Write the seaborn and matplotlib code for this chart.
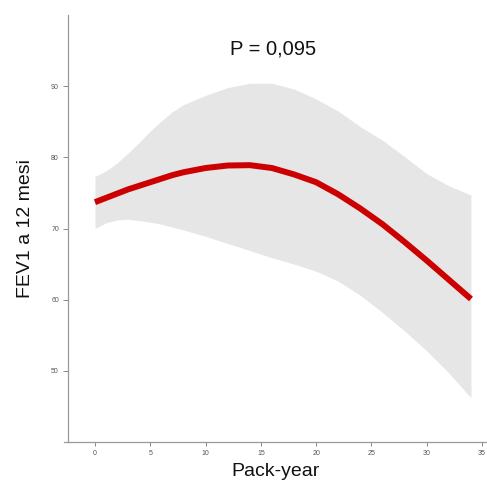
import numpy as np
import pandas as pd
import matplotlib
matplotlib.use("Agg")
import matplotlib.pyplot as plt
import seaborn as sns

pack_year = [0, 1, 2, 3, 4, 5, 6, 7, 8, 10, 12, 14, 16, 18, 20, 22, 24, 26, 28, 30, 32, 34]
fev1_fit = [73.7, 74.3, 74.9, 75.5, 76.0, 76.5, 77.0, 77.5, 77.9, 78.5, 78.85, 78.9,
            78.5, 77.6, 76.5, 74.8, 72.8, 70.6, 68.1, 65.5, 62.8, 60.1]
ci_upper = [77.3, 78.1, 79.2, 80.6, 82.1, 83.7, 85.1, 86.4, 87.4, 88.7, 89.8, 90.4,
            90.4, 89.6, 88.2, 86.5, 84.3, 82.4, 80.1, 77.7, 76.0, 74.7]
ci_lower = [70.0, 70.8, 71.2, 71.3, 71.1, 70.9, 70.6, 70.2, 69.8, 68.9, 67.9, 66.9,
            65.9, 65.0, 64.0, 62.6, 60.6, 58.2, 55.6, 52.8, 49.7, 46.2]
x_ticks = [0, 5, 10, 15, 20, 25, 30, 35]
y_ticks = [50, 60, 70, 80, 90]

df = pd.DataFrame({"Pack-year": pack_year, "FEV1": fev1_fit,
                   "lo": ci_lower, "hi": ci_upper})

sns.set_style("white")
plt.rcParams["font.family"] = ["Liberation Sans", "DejaVu Sans"]

W, H = 487, 483
fig = plt.figure(figsize=(W / 100, H / 100), dpi=100)
fig.patch.set_facecolor("white")
ax = fig.add_axes([64 / W, 1 - 442 / H, (487 - 64) / W, (442 - 15) / H])
ax.set_facecolor("white")

ax.fill_between(df["Pack-year"], df["lo"], df["hi"], color="#E6E6E6", linewidth=0, zorder=1)
sns.lineplot(data=df, x="Pack-year", y="FEV1", ax=ax, color="#CC0000",
             linewidth=4.3, zorder=2, solid_capstyle="butt")

ax.set_xlim(-2.8, 35.45)
ax.set_ylim(40, 100)
ax.set_xticks(x_ticks)
ax.set_yticks(y_ticks)
ax.tick_params(axis="both", which="both", length=3, width=0.7, color="#888888",
               labelsize=5, labelcolor="#555555", pad=3, direction="out",
               bottom=True, left=True)
ax.tick_params(axis="y", length=3.5)

for side in ["top", "right"]:
    ax.spines[side].set_visible(False)
for side in ["left", "bottom"]:
    ax.spines[side].set_color("#999999")
    ax.spines[side].set_linewidth(0.9)
ax.spines["left"].set_position(("data", -2.44))

ax.set_xlabel("Pack-year", fontsize=14, labelpad=4, color="#111111")
ax.set_ylabel("FEV1 a 12 mesi", fontsize=14, labelpad=12, color="#111111")
ax.text(0.494, 0.92, "P = 0,095", transform=ax.transAxes, ha="center", va="center",
        fontsize=14.5, color="#111111")

fig.savefig("out.png", dpi=100, facecolor="white")
